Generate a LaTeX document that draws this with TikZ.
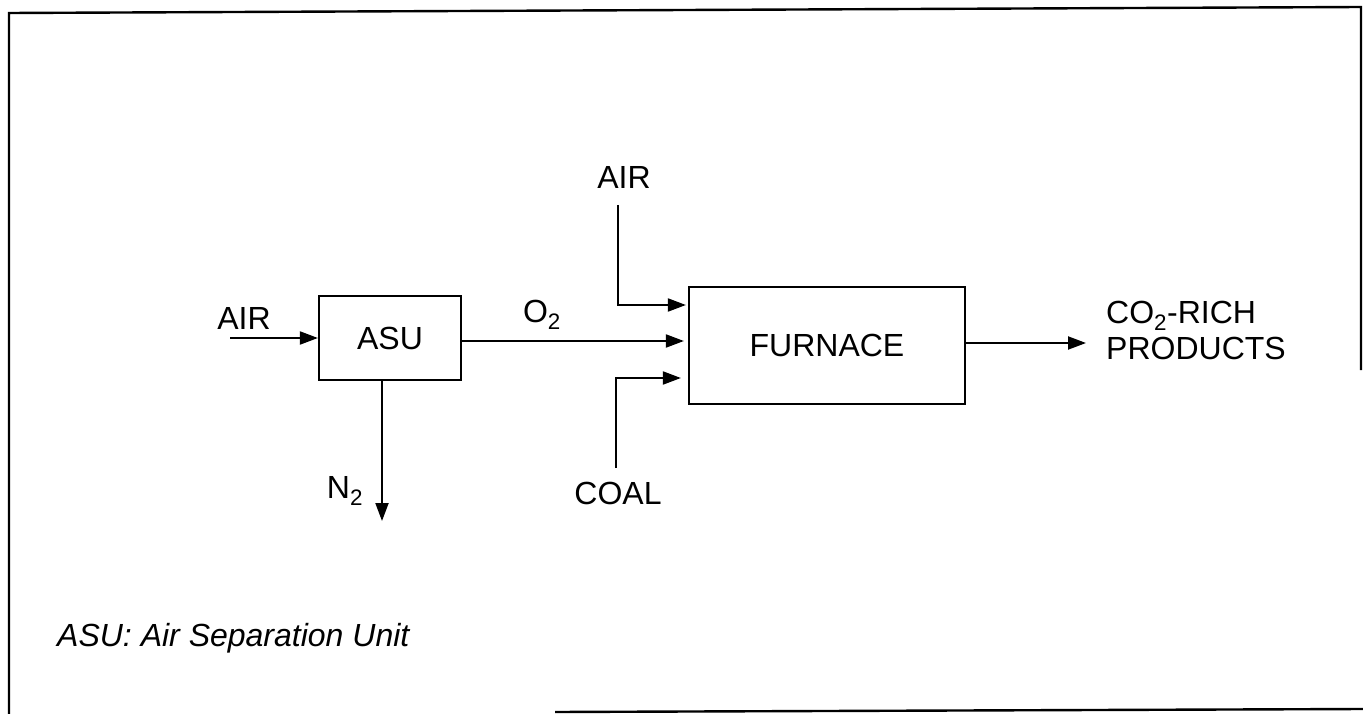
\documentclass[tikz,border=0pt]{standalone}
\usepackage{fontspec}
\setmainfont{Liberation Sans}
\usetikzlibrary{arrows.meta}
\begin{document}
\begin{tikzpicture}[x=1pt,y=-1pt,
  every node/.style={font=\fontsize{32}{32}\selectfont, inner sep=0pt},
  box/.style={draw, line width=2.2pt},
  flow/.style={line width=2pt, -{Triangle[length=18pt,width=13pt]}},
  frame/.style={line width=2.4pt}]
\useasboundingbox (0,0) rectangle (1363,714);
% frame
\draw[frame] (9,714) -- (9,13) -- (1361,7) -- (1361,370);
\draw[frame] (555,712) -- (1363,709);
% boxes
\node[box, minimum width=142pt, minimum height=84pt] (asu) at (390,338) {ASU};
\node[box, minimum width=276pt, minimum height=117pt] (furn) at (827,345.5) {FURNACE};
% labels
\node (airL) at (244,318) {AIR};
\node (o2) at (542,315) {O\textsubscript{2}};
\node (n2) at (345,491) {N\textsubscript{2}};
\node (airT) at (624,177) {AIR};
\node (coal) at (618,493) {COAL};
\node[anchor=west, align=left, font=\fontsize{32}{36}\selectfont] (prod) at (1106,330) {CO\textsubscript{2}-RICH\\PRODUCTS};
\node[anchor=west, font=\fontsize{32}{32}\selectfont\itshape] (note) at (57,638) {ASU: Air Separation Unit};
% coordinates
\coordinate (airin) at (230,338);
\coordinate (n2end) at (382,521);
\coordinate (airtop) at (618,205);
\coordinate (coalbot) at (616,468);
\coordinate (prodtip) at (1086,343);
% connectors
\draw[flow] (airin) -- (asu.west|-airin);
\draw[flow, shorten >=4pt] (asu.east|-0,341) -- (furn.west|-0,341);
\draw[flow] (asu.south-|n2end) -- (n2end);
\draw[flow, shorten >=2pt] (airtop) |- (furn.west|-0,305);
\draw[flow, shorten >=7pt] (coalbot) |- (furn.west|-0,378);
\draw[flow] (furn.east|-prodtip) -- (prodtip);
\end{tikzpicture}
\end{document}
